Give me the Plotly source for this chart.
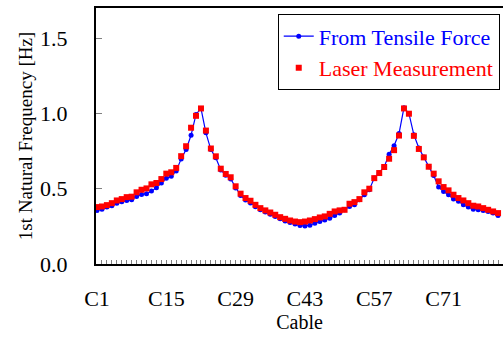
import plotly.graph_objects as go

cables = [f"C{i}" for i in range(1, 83)]
tick_labels = ["C1", "C15", "C29", "C43", "C57", "C71"]

tensile = [0.356, 0.364, 0.378, 0.387, 0.404, 0.413, 0.422, 0.427, 0.449, 0.462,
           0.467, 0.484, 0.507, 0.538, 0.569, 0.582, 0.618, 0.698, 0.760, 0.855,
           0.993, 1.033, 0.871, 0.760, 0.705, 0.625, 0.590, 0.565, 0.505, 0.455,
           0.425, 0.405, 0.380, 0.360, 0.345, 0.330, 0.315, 0.300, 0.285, 0.275,
           0.265, 0.255, 0.253, 0.258, 0.271, 0.282, 0.293, 0.304, 0.322, 0.338,
           0.360, 0.382, 0.393, 0.427, 0.460, 0.493, 0.571, 0.604, 0.644, 0.729,
           0.785, 0.866, 1.038, 1.000, 0.858, 0.770, 0.710, 0.645, 0.587, 0.511,
           0.482, 0.460, 0.431, 0.416, 0.393, 0.378, 0.364, 0.360, 0.356, 0.349,
           0.338, 0.322]

laser = [0.378, 0.382, 0.391, 0.404, 0.422, 0.431, 0.444, 0.447, 0.476, 0.493,
         0.502, 0.529, 0.538, 0.564, 0.600, 0.609, 0.638, 0.716, 0.782, 0.905,
         0.984, 1.033, 0.886, 0.767, 0.715, 0.633, 0.598, 0.576, 0.516, 0.467,
         0.438, 0.420, 0.393, 0.371, 0.356, 0.342, 0.327, 0.311, 0.300, 0.289,
         0.282, 0.278, 0.282, 0.289, 0.298, 0.309, 0.316, 0.333, 0.349, 0.356,
         0.360, 0.400, 0.411, 0.431, 0.476, 0.500, 0.570, 0.604, 0.644, 0.699,
         0.756, 0.853, 1.033, 0.998, 0.851, 0.764, 0.708, 0.646, 0.600, 0.549,
         0.511, 0.489, 0.460, 0.438, 0.422, 0.404, 0.387, 0.382, 0.371, 0.360,
         0.349, 0.338]

FONT = "Liberation Serif"
BLUE = "#0000FF"
RED = "#FF0000"

fig = go.Figure()
fig.add_trace(go.Scatter(
    x=cables, y=tensile, mode="lines+markers",
    name=f"<span style='color:{BLUE}'>From Tensile Force</span>",
    line=dict(color=BLUE, width=1.2),
    marker=dict(symbol="circle", size=5, color=BLUE),
))
fig.add_trace(go.Scatter(
    x=cables, y=laser, mode="markers",
    name=f"<span style='color:{RED}'>Laser Measurement</span>",
    marker=dict(symbol="square", size=6, color=RED),
))

fig.update_layout(
    width=503, height=337,
    margin=dict(l=96, r=0, t=8, b=73, autoexpand=False),
    paper_bgcolor="white", plot_bgcolor="white",
    font=dict(family=FONT, size=22, color="black"),
    showlegend=True,
    legend=dict(
        x=0.992, y=0.975, xanchor="right", yanchor="top",
        bgcolor="white", bordercolor="black", borderwidth=1,
        font=dict(family=FONT, size=22),
        itemwidth=30, tracegroupgap=0,
    ),
    xaxis=dict(
        type="category",
        categoryorder="array", categoryarray=cables,
        range=[-0.2, 82.0],
        tickmode="array", tickvals=cables,
        ticktext=[c if c in tick_labels else "" for c in cables],
        ticks="inside", ticklen=4, tickwidth=1, tickcolor="#808080",
        showline=True, linecolor="black", linewidth=2, mirror=True,
        showgrid=False, zeroline=False, automargin=False,
        tickfont=dict(family=FONT, size=22),
        ticklabelstandoff=14,
        title=dict(text="Cable", font=dict(family=FONT, size=20), standoff=4),
    ),
    yaxis=dict(
        range=[0, 1.7],
        tickvals=[0, 0.5, 1.0, 1.5], tickformat=".1f",
        ticks="inside", ticklen=6, tickwidth=1, tickcolor="#808080",
        showline=True, linecolor="black", linewidth=2, mirror=False,
        showgrid=False, zeroline=False, automargin=False,
        tickfont=dict(family=FONT, size=22),
        ticklabelstandoff=22,
        title=dict(text="1st Natural Frequency [Hz]", font=dict(family=FONT, size=19), standoff=2),
    ),
)

fig.write_html("out.html", config={"displayModeBar": False},
               post_script="document.body.style.margin='0';")
